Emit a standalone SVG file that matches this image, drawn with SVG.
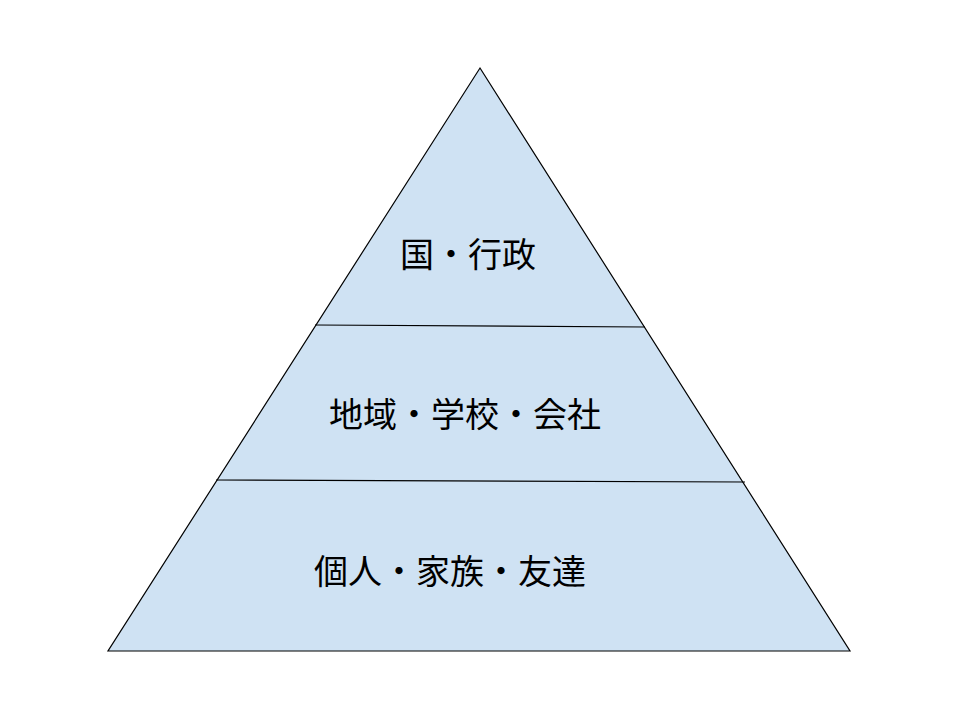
<svg xmlns="http://www.w3.org/2000/svg" width="960" height="720" viewBox="0 0 960 720">
<style>
.t{font-family:"Liberation Sans","Noto Sans CJK JP",sans-serif;font-size:34px;fill:#000;text-anchor:middle}
.l{stroke:#000;stroke-width:1.2;fill:none}
</style>
<rect width="960" height="720" fill="#fff"/>
<g id="pyramid">
<polygon points="480,68 850,651 108,651" fill="#cfe2f3" stroke="#000" stroke-width="1.2"/>
</g>
<g id="connectors">
<line class="l" x1="315" y1="325" x2="645" y2="327"/>
<line class="l" x1="216" y1="480" x2="745" y2="482"/>
</g>
<g id="top"><text class="t" x="468" y="267">国・行政</text></g>
<g id="middle"><text class="t" x="465" y="427">地域・学校・会社</text></g>
<g id="bottom"><text class="t" x="450" y="584">個人・家族・友達</text></g>
</svg>
